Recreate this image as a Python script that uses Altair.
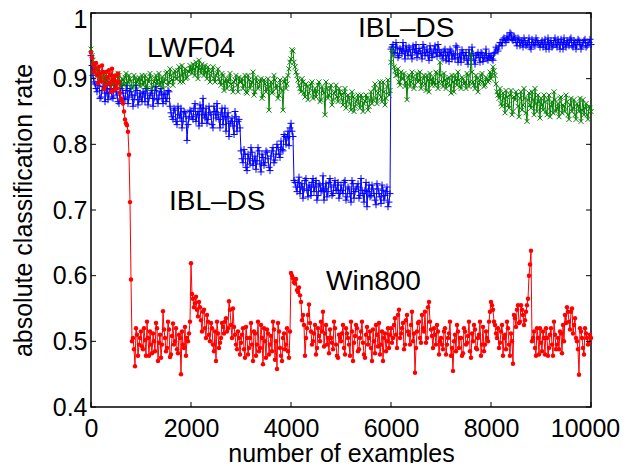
import altair as alt
import pandas as pd

# curves are sampled every 20 examples: "main" values at 0, 40, 80, ...
# and "mid" values at 20, 60, 100, ... (absolute classification rate in thousandths)
sample_step = 20

ibl_ds_main = [
    935, 905, 892, 880, 895, 872, 888, 865, 890, 878, 884, 870, 892, 875, 862, 885, 878, 868, 890, 872, 880, 858, 875, 882, 868,
    872, 880, 865, 885, 870, 878, 858, 882, 868, 875, 885, 862, 876, 870, 880, 848, 838, 852, 830, 845, 855, 835, 848, 806, 840,
    850, 838, 862, 845, 828, 855, 870, 840, 832, 858, 845, 825, 850, 862, 838, 848, 830, 855, 842, 812, 835, 828, 850, 820, 838,
    790, 772, 785, 760, 778, 795, 768, 782, 775, 790, 758, 780, 772, 788, 765, 782, 795, 776, 800, 785, 805, 790, 812, 810, 798,
    832, 812, 742, 728, 750, 735, 718, 745, 730, 738, 722, 748, 735, 715, 740, 728, 752, 732, 720, 742, 735, 725, 745, 730, 718,
    738, 725, 745, 720, 732, 712, 740, 728, 735, 718, 748, 725, 730, 705, 738, 722, 732, 715, 740, 725, 710, 730, 722, 735, 712,
    945, 952, 938, 948, 935, 944, 955, 930, 942, 948, 936, 950, 940, 932, 946, 938, 952, 935, 945, 928, 942, 938, 950, 934, 944,
    940, 930, 945, 935, 926, 942, 938, 930, 948, 932, 925, 940, 935, 928, 944, 930, 938, 922, 936, 932, 940, 926, 935, 930, 938,
    935, 928, 940, 945, 950, 955, 960, 958, 965, 962, 968, 958, 962, 950, 960, 955, 948, 958, 952, 962, 945, 955, 950, 958, 952,
    955, 948, 960, 952, 945, 958, 950, 962, 948, 955, 960, 945, 952, 958, 950, 962, 948, 955, 952, 958, 945, 955, 960, 950, 955,
    952,
]
ibl_ds_mid = [
    920, 895, 885, 890, 870, 882, 895, 878, 868, 885, 872, 890, 880, 865, 878, 890, 870, 882, 862, 885, 875, 868, 890, 860, 878,
    865, 878, 885, 860, 875, 882, 870, 888, 862, 880, 870, 878, 865, 882, 858, 842, 855, 835, 858, 840, 825, 850, 842, 830, 852,
    842, 855, 835, 850, 860, 832, 845, 855, 838, 848, 830, 858, 840, 845, 825, 855, 842, 820, 848, 832, 840, 815, 842, 835, 825,
    778, 792, 765, 785, 770, 788, 775, 762, 795, 770, 785, 768, 790, 778, 760, 790, 772, 785, 795, 780, 792, 815, 800, 820, 825,
    820, 745, 735, 742, 725, 740, 732, 748, 720, 735, 742, 728, 745, 722, 738, 730, 715, 740, 728, 748, 722, 738, 730, 742, 725,
    730, 742, 715, 735, 725, 745, 718, 732, 740, 722, 730, 712, 742, 728, 720, 738, 725, 708, 732, 720, 738, 715, 728, 705, 725,
    948, 940, 955, 932, 946, 938, 942, 950, 935, 944, 930, 945, 952, 938, 942, 930, 948, 940, 935, 950, 932, 945, 940, 952, 936,
    935, 942, 928, 940, 945, 930, 936, 950, 925, 938, 944, 930, 940, 922, 935, 948, 928, 935, 940, 925, 938, 932, 945, 928, 932,
    930, 938, 948, 942, 955, 950, 962, 955, 960, 970, 960, 965, 955, 962, 950, 958, 962, 950, 955, 948, 960, 952, 962, 955, 948,
    958, 952, 945, 962, 955, 948, 958, 952, 960, 945, 955, 962, 948, 955, 960, 950, 958, 945, 960, 952, 950, 958, 948, 955, 960,
]

lwf04_main = [
    945, 928, 915, 905, 910, 898, 905, 892, 902, 895, 908, 890, 900, 895, 905, 888, 898, 902, 892, 905, 896, 888, 900, 895, 902,
    898, 890, 905, 885, 895, 902, 888, 900, 892, 908, 895, 885, 900, 910, 895, 905, 890, 912, 900, 918, 905, 895, 915, 902, 910,
    915, 922, 905, 918, 928, 908, 915, 920, 900, 912, 905, 918, 895, 908, 900, 890, 905, 895, 885, 900, 892, 880, 898, 890, 902,
    895, 885, 905, 878, 898, 890, 910, 880, 895, 888, 900, 875, 892, 885, 852, 895, 880, 898, 890, 875, 885, 852, 900, 892, 915,
    930, 942, 918, 905, 890, 880, 895, 872, 888, 878, 892, 870, 885, 880, 895, 868, 882, 845, 885, 875, 890, 868, 880, 872, 885,
    875, 860, 885, 865, 870, 852, 872, 858, 868, 862, 875, 850, 866, 870, 858, 880, 868, 892, 862, 885, 872, 895, 860, 888, 875,
    925, 935, 912, 905, 895, 910, 900, 888, 868, 905, 895, 902, 890, 908, 898, 885, 900, 892, 905, 880, 898, 902, 890, 908, 895,
    905, 888, 898, 892, 902, 878, 895, 905, 890, 898, 885, 900, 895, 908, 888, 938, 895, 885, 900, 892, 905, 895, 890, 900, 898,
    900, 918, 905, 880, 870, 862, 878, 848, 872, 855, 882, 850, 868, 875, 842, 880, 860, 870, 835, 878, 855, 868, 885, 850, 865,
    870, 852, 865, 845, 875, 858, 848, 868, 855, 842, 872, 860, 850, 865, 838, 870, 855, 845, 862, 850, 835, 868, 855, 845, 858,
    850,
]
lwf04_mid = [
    935, 920, 908, 915, 895, 902, 910, 898, 890, 905, 895, 902, 888, 908, 895, 900, 890, 908, 895, 900, 885, 905, 892, 898, 888,
    905, 895, 888, 900, 908, 885, 895, 905, 898, 890, 902, 895, 908, 890, 915, 898, 908, 900, 912, 895, 920, 908, 900, 912, 920,
    908, 915, 925, 900, 915, 922, 905, 910, 918, 895, 912, 900, 905, 915, 895, 908, 882, 900, 895, 908, 885, 895, 905, 880, 895,
    900, 890, 880, 905, 885, 895, 875, 902, 885, 895, 870, 898, 880, 900, 888, 878, 905, 885, 870, 898, 882, 895, 885, 905, 925,
    944, 925, 910, 898, 885, 900, 878, 892, 868, 885, 895, 880, 872, 890, 865, 888, 878, 895, 870, 885, 860, 878, 890, 865, 880,
    868, 878, 855, 875, 862, 880, 850, 865, 875, 855, 870, 862, 875, 852, 868, 862, 885, 870, 878, 895, 865, 880, 870, 898, 882,
    945, 918, 905, 915, 890, 900, 908, 895, 902, 888, 910, 885, 900, 895, 910, 892, 905, 882, 898, 908, 890, 895, 910, 885, 925,
    895, 908, 885, 900, 890, 905, 880, 898, 910, 888, 902, 892, 885, 905, 895, 910, 890, 905, 880, 898, 908, 888, 902, 895, 910,
    905, 912, 892, 875, 885, 858, 870, 882, 860, 875, 845, 872, 880, 858, 870, 852, 885, 848, 868, 860, 880, 845, 862, 875, 840,
    860, 875, 850, 868, 842, 865, 880, 850, 862, 870, 848, 858, 875, 845, 860, 850, 868, 838, 858, 870, 852, 845, 862, 838, 855,
]

win800_main = [
    940, 922, 915, 905, 918, 896, 910, 888, 902, 913, 880, 898, 905, 885, 895, 870, 862, 838, 829, 784, 594, 505, 462, 510, 495,
    515, 488, 502, 530, 478, 495, 512, 485, 520, 498, 475, 546, 505, 490, 518, 480, 527, 500, 488, 510, 450, 495, 522, 505, 512,
    619, 565, 558, 548, 560, 532, 545, 520, 540, 510, 528, 495, 515, 530, 490, 505, 522, 530, 515, 561, 525, 550, 510, 488, 505,
    498, 520, 475, 505, 490, 528, 470, 512, 495, 485, 525, 465, 500, 518, 480, 508, 530, 472, 458, 515, 478, 505, 488, 520, 475,
    604, 596, 588, 578, 582, 560, 540, 478, 520, 556, 515, 500, 525, 490, 508, 530, 545, 512, 495, 482, 505, 488, 520, 478, 510,
    500, 525, 480, 512, 495, 530, 470, 508, 520, 488, 515, 498, 475, 522, 505, 490, 518, 482, 510, 528, 495, 470, 512, 500, 490,
    520, 505, 535, 490, 548, 512, 528, 495, 540, 510, 525, 500, 452, 515, 530, 498, 520, 545, 505, 560, 518, 490, 510, 525, 480,
    505, 488, 520, 495, 512, 478, 455, 510, 525, 490, 505, 482, 515, 498, 530, 475, 500, 518, 488, 510, 478, 522, 495, 505, 530,
    560, 548, 525, 505, 490, 515, 478, 510, 530, 495, 512, 466, 535, 548, 528, 555, 540, 532, 555, 600, 638, 505, 490, 520, 480,
    498, 515, 480, 505, 490, 520, 478, 510, 495, 488, 512, 525, 540, 552, 530, 545, 512, 535, 500, 449, 515, 490, 520, 505, 498,
    505,
]
win800_mid = [
    932, 910, 924, 893, 908, 920, 884, 910, 893, 906, 915, 882, 894, 908, 878, 866, 850, 832, 819, 712, 500, 488, 520, 478, 505,
    492, 520, 478, 505, 515, 482, 500, 528, 470, 510, 495, 518, 485, 530, 476, 508, 495, 520, 482, 505, 515, 490, 478, 500, 530,
    572, 552, 568, 538, 552, 515, 548, 505, 530, 500, 520, 485, 470, 512, 498, 528, 512, 535, 520, 548, 505, 522, 495, 515, 480,
    510, 488, 522, 480, 505, 495, 515, 478, 530, 490, 505, 520, 475, 512, 495, 485, 518, 500, 528, 490, 470, 512, 495, 485, 515,
    600, 590, 595, 575, 570, 532, 525, 505, 540, 528, 495, 512, 480, 520, 500, 515, 492, 525, 505, 518, 498, 530, 495, 475, 505,
    512, 490, 520, 505, 478, 515, 498, 525, 485, 505, 530, 480, 510, 495, 515, 470, 500, 525, 492, 480, 515, 505, 485, 520, 510,
    498, 525, 510, 540, 505, 520, 488, 532, 515, 495, 545, 512, 490, 528, 505, 540, 515, 498, 552, 530, 508, 520, 495, 515, 500,
    495, 515, 480, 505, 530, 490, 500, 485, 515, 505, 478, 520, 495, 508, 485, 512, 525, 490, 505, 530, 495, 485, 515, 500, 545,
    555, 530, 512, 520, 498, 525, 505, 488, 520, 478, 500, 540, 522, 555, 530, 548, 525, 545, 565, 617, 500, 515, 478, 505, 520,
    485, 505, 520, 478, 510, 495, 530, 488, 505, 515, 482, 500, 528, 545, 518, 550, 525, 505, 488, 520, 505, 480, 512, 495, 510,
]

x_ticks = [0, 2000, 4000, 6000, 8000, 10000]
y_ticks = [0.4, 0.5, 0.6, 0.7, 0.8, 0.9, 1.0]

label_text = ["LWF04", "IBL\u2013DS", "IBL\u2013DS", "Win800"]
label_x = [1120, 5340, 1560, 4700]
label_y = [0.933, 0.964, 0.700, 0.578]

FONT = "Liberation Sans"
W, H = 500, 394
TL = 5  # inner tick length

xs = alt.Scale(domain=[0, 10000], nice=False, zero=False)
ys = alt.Scale(domain=[0.4, 1.0], nice=False, zero=False)


def series_df(main, mid):
    vals = []
    for i, v in enumerate(main):
        vals.append(v)
        if i < len(mid):
            vals.append(mid[i])
    return pd.DataFrame({
        "n": [i * sample_step for i in range(len(vals))],
        "rate": [v / 1000 for v in vals],
    })


x_axis = alt.Axis(values=x_ticks, format="d", title="number of examples",
                  labelFont=FONT, labelFontSize=25, labelColor="black",
                  labelPadding=9, ticks=False, domain=False, grid=False,
                  labelFlush=False, labelOverlap=False,
                  labelOffset={"condition": {"test": "datum.value >= 10000", "value": -6}, "value": 0},
                  titleFont=FONT, titleFontSize=25, titleFontWeight="normal",
                  titleColor="black", titleBaseline="alphabetic", titleY=54)
y_axis = alt.Axis(values=y_ticks, format=".1~f", title="absolute classification rate",
                  labelFont=FONT, labelFontSize=25, labelColor="black",
                  labelPadding=4, ticks=False, domain=False, grid=False,
                  labelFlush=False, labelOverlap=False,
                  labelOffset={"condition": {"test": "datum.value >= 1", "value": 6}, "value": 0},
                  titleFont=FONT, titleFontSize=25, titleFontWeight="normal",
                  titleColor="black", titleBaseline="alphabetic", titleAngle=270,
                  titleX=-60, titleY=197, titleAlign="center")


def X(field):
    return alt.X(field, scale=xs, axis=x_axis)


def Y(field):
    return alt.Y(field, scale=ys, axis=y_axis)


plus_path = "M-1,0L1,0M0,-1L0,1"
cross_path = "M-1,-1L1,1M-1,1L1,-1"

blue = alt.Chart(series_df(ibl_ds_main, ibl_ds_mid)).mark_line(
    color="#0000ff", strokeWidth=1,
    point=alt.OverlayMarkDef(shape=plus_path, filled=False, size=49,
                             color="#0000ff", strokeWidth=1, opacity=1),
).encode(x=X("n:Q"), y=Y("rate:Q"))

green = alt.Chart(series_df(lwf04_main, lwf04_mid)).mark_line(
    color="#008000", strokeWidth=1,
    point=alt.OverlayMarkDef(shape=cross_path, filled=False, size=25,
                             color="#008000", strokeWidth=1, opacity=1),
).encode(x=X("n:Q"), y=Y("rate:Q"))

red = alt.Chart(series_df(win800_main, win800_mid)).mark_line(
    color="#ff0000", strokeWidth=1,
    point=alt.OverlayMarkDef(shape="circle", filled=True, size=20,
                             color="#ff0000", opacity=1),
).encode(x=X("n:Q"), y=Y("rate:Q"))

labels = alt.Chart(pd.DataFrame({"t": label_text, "n": label_x, "rate": label_y})).mark_text(
    font=FONT, fontSize=28, color="black", align="left", baseline="alphabetic"
).encode(x=X("n:Q"), y=Y("rate:Q"), text="t:N")

xt = pd.DataFrame({"n": x_ticks})
yt = pd.DataFrame({"rate": y_ticks})
tick_b = alt.Chart(xt).mark_rule(color="black", strokeWidth=1).encode(
    x=X("n:Q"), y=alt.value(H), y2=alt.value(H - TL))
tick_t = alt.Chart(xt).mark_rule(color="black", strokeWidth=1).encode(
    x=X("n:Q"), y=alt.value(0), y2=alt.value(TL))
tick_l = alt.Chart(yt).mark_rule(color="black", strokeWidth=1).encode(
    y=Y("rate:Q"), x=alt.value(0), x2=alt.value(TL))
tick_r = alt.Chart(yt).mark_rule(color="black", strokeWidth=1).encode(
    y=Y("rate:Q"), x=alt.value(W), x2=alt.value(W - TL))

chart = alt.layer(blue, green, red, labels, tick_b, tick_t, tick_l, tick_r).properties(
    width=W, height=H,
    autosize=alt.AutoSizeParams(type="none"),
    padding={"left": 83, "top": 5, "right": 29, "bottom": 56},
    background="white",
).configure_view(stroke="black", strokeWidth=1.5)

chart.save("out.html", embed_options={"renderer": "svg", "actions": False})
